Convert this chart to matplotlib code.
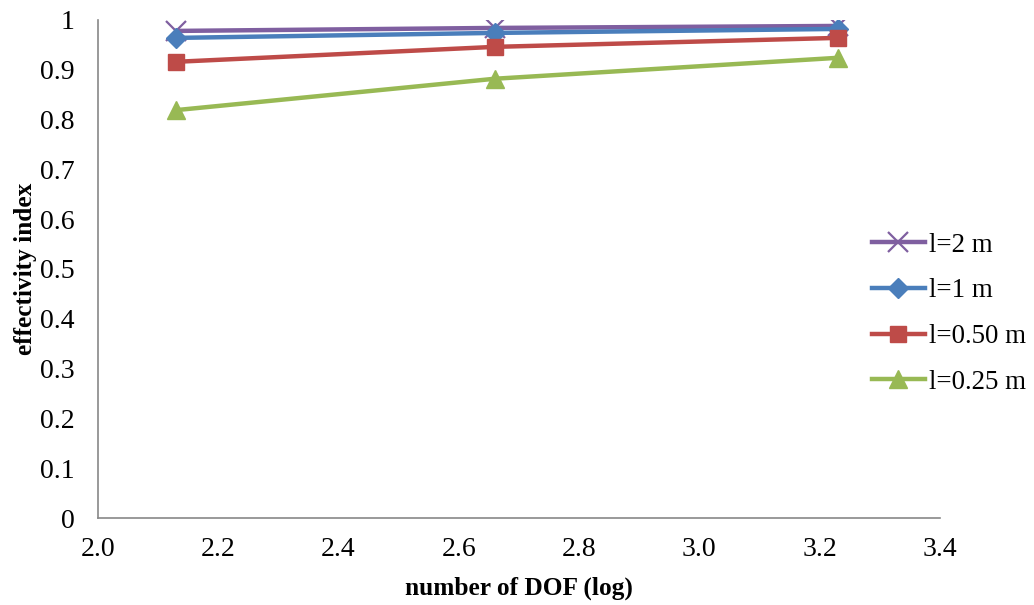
import matplotlib
matplotlib.use("Agg")
import matplotlib.pyplot as plt

x_vals = [2.13, 2.66, 3.23]
series_labels = ["l=2 m", "l=1 m", "l=0.50 m", "l=0.25 m"]
y_l2 = [0.978, 0.984, 0.988]
y_l1 = [0.964, 0.974, 0.982]
y_l05 = [0.916, 0.946, 0.964]
y_l025 = [0.819, 0.882, 0.924]
x_ticks = [2.0, 2.2, 2.4, 2.6, 2.8, 3.0, 3.2, 3.4]
y_ticks = [0, 0.1, 0.2, 0.3, 0.4, 0.5, 0.6, 0.7, 0.8, 0.9, 1]
y_tick_labels = ["0", "0.1", "0.2", "0.3", "0.4", "0.5", "0.6", "0.7", "0.8", "0.9", "1"]

plt.rcParams['font.family'] = ['Liberation Serif', 'DejaVu Serif']

fig = plt.figure(figsize=(10.34, 6.05), dpi=100)
ax = fig.add_axes([0.0948, 0.1438, 0.8142, 0.8232])

styles = [
    (y_l2, "#7F5FA0", "x", 14, 1.6),
    (y_l1, "#4A7EBB", "D", 10, 0),
    (y_l05, "#BE4B48", "s", 11, 0),
    (y_l025, "#98B954", "^", 13, 0),
]
for (ys, color, m, ms, mew), lab in zip(styles, series_labels):
    ax.plot(x_vals, ys, color=color, lw=3.2, marker=m, ms=ms,
            markeredgewidth=mew if mew else 1, markeredgecolor=color,
            markerfacecolor=color, label=lab)

ax.set_xlim(2.0, 3.4)
ax.set_ylim(0, 1)
ax.set_xticks(x_ticks)
ax.set_xticklabels([f"{v:.1f}" for v in x_ticks])
ax.set_yticks(y_ticks)
ax.set_yticklabels(y_tick_labels)
ax.tick_params(length=0, labelsize=20)
ax.tick_params(axis='x', pad=14)
ax.tick_params(axis='y', pad=17)
for s in ["top", "right"]:
    ax.spines[s].set_visible(False)
for s in ["left", "bottom"]:
    ax.spines[s].set_color("#888888")
    ax.spines[s].set_linewidth(1.2)

ax.set_xlabel("number of DOF (log)", fontsize=18.3, fontweight="bold", labelpad=10)
ax.set_ylabel("effectivity index", fontsize=18.3, fontweight="bold", labelpad=2)

leg = ax.legend(loc="center left", bbox_to_anchor=(0.919, 0.41), frameon=False,
                fontsize=19.4, handlelength=1.96, handletextpad=0.18, labelspacing=0.77,
                borderaxespad=0, borderpad=0)

fig.savefig("out.png", dpi=100)
